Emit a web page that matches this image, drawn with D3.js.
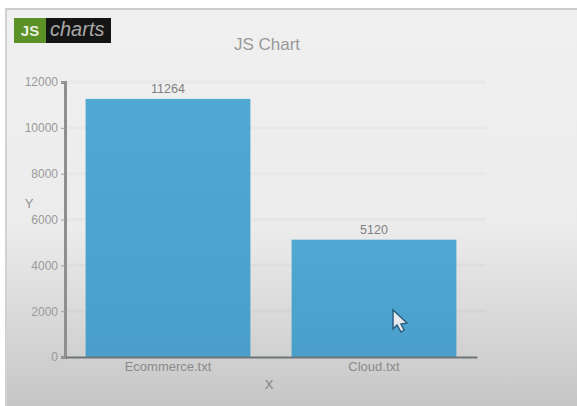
<!DOCTYPE html>
<html>
<head>
<meta charset="utf-8">
<title>JS Chart</title>
<script src="https://cdn.jsdelivr.net/npm/d3@7"></script>
<style>
  html, body { margin: 0; padding: 0; background: #fff; }
  svg { display: block; font-family: "Liberation Sans", Arial, sans-serif; }
</style>
</head>
<body>
<div id="chart"></div>
<script>
const categories = ['Ecommerce.txt', 'Cloud.txt'];
const values = [11264, 5120];
const yTicks = [0, 2000, 4000, 6000, 8000, 10000, 12000];

const width = 577;
const height = 406;
const margin = { top: 82, right: 100, bottom: 49, left: 65 };

const svg = d3.select('#chart')
    .append('svg')
    .attr('width', width)
    .attr('height', height);

// Panel background fades from light to mid grey
const defs = svg.append('defs');
const bg = defs.append('linearGradient')
    .attr('id', 'panel-bg')
    .attr('x1', 0).attr('y1', 0).attr('x2', 0).attr('y2', 1);
bg.append('stop').attr('offset', '0%').attr('stop-color', '#f0f0f0');
bg.append('stop').attr('offset', '55%').attr('stop-color', '#ececec');
bg.append('stop').attr('offset', '100%').attr('stop-color', '#c6c6c6');

const barFill = defs.append('linearGradient')
    .attr('id', 'bar-fill')
    .attr('x1', 0).attr('y1', 0).attr('x2', 0).attr('y2', 1);
barFill.append('stop').attr('offset', '0%').attr('stop-color', '#50a9d3');
barFill.append('stop').attr('offset', '100%').attr('stop-color', '#499fc9');

svg.append('rect')
    .attr('x', 5).attr('y', 8)
    .attr('width', width - 5).attr('height', height - 8)
    .attr('fill', 'url(#panel-bg)');
svg.append('rect')
    .attr('x', 5).attr('y', 8)
    .attr('width', width - 5).attr('height', 2)
    .attr('fill', '#cccccc');
svg.append('rect')
    .attr('x', 5).attr('y', 8)
    .attr('width', 2).attr('height', height - 8)
    .attr('fill', '#d2d2d2');

// Scales
const x = d3.scaleBand()
    .domain(categories)
    .range([margin.left, width - margin.right])
    .paddingInner(0.2)
    .paddingOuter(0.1);

const y = d3.scaleLinear()
    .domain([0, 12000])
    .range([height - margin.bottom, margin.top]);

// Gridlines
svg.append('g')
    .selectAll('line')
    .data(yTicks.filter(d => d > 0))
    .enter()
    .append('line')
    .attr('x1', margin.left)
    .attr('x2', 486)
    .attr('y1', d => y(d))
    .attr('y2', d => y(d))
    .attr('stroke', '#000')
    .attr('stroke-opacity', 0.025)
    .attr('stroke-width', 3);

// Bars
svg.append('g')
    .selectAll('rect')
    .data(values)
    .enter()
    .append('rect')
    .attr('x', (d, i) => x(categories[i]))
    .attr('y', d => y(d))
    .attr('width', x.bandwidth())
    .attr('height', d => y(0) - y(d))
    .attr('fill', 'url(#bar-fill)');

// Value labels
svg.append('g')
    .selectAll('text')
    .data(values)
    .enter()
    .append('text')
    .attr('x', (d, i) => x(categories[i]) + x.bandwidth() / 2)
    .attr('y', d => y(d) - 6)
    .attr('text-anchor', 'middle')
    .attr('font-size', 12.5)
    .attr('fill', '#808080')
    .text(d => d);

// Axes
const yAxis = svg.append('g')
    .attr('transform', `translate(${margin.left},0)`)
    .call(d3.axisLeft(y).tickValues(yTicks).tickFormat(d => d).tickSize(4).tickPadding(3));
yAxis.selectAll('.domain').attr('stroke', '#8f8f8f').attr('stroke-width', 3);
yAxis.selectAll('.tick line').attr('stroke', '#a0a0a0');
yAxis.selectAll('text').attr('font-size', 12).attr('fill', '#9a9a9a').attr('font-family', 'inherit');

const xAxis = svg.append('g')
    .attr('transform', `translate(0,${height - margin.bottom})`)
    .call(d3.axisBottom(x).tickSize(0).tickPadding(5));
xAxis.selectAll('.domain').attr('stroke', '#6f7476').attr('stroke-width', 2);
xAxis.selectAll('text').attr('font-size', 13).attr('fill', '#8a8a8a').attr('font-family', 'inherit');

// Title and axis names
svg.append('text')
    .attr('x', 267).attr('y', 50)
    .attr('text-anchor', 'middle')
    .attr('font-size', 17)
    .attr('fill', '#999')
    .text('JS Chart');
svg.append('text')
    .attr('x', 269).attr('y', 389)
    .attr('text-anchor', 'middle')
    .attr('font-size', 13)
    .attr('fill', '#808080')
    .text('X');
svg.append('text')
    .attr('x', 29).attr('y', 208)
    .attr('text-anchor', 'middle')
    .attr('font-size', 13)
    .attr('fill', '#939393')
    .text('Y');

// Logo badge
const logo = svg.append('g').attr('transform', 'translate(14,18)');
logo.append('rect').attr('width', 97).attr('height', 25).attr('fill', '#141414');
logo.append('rect').attr('width', 32).attr('height', 25).attr('fill', '#5c9127');
logo.append('text')
    .attr('x', 16).attr('y', 18)
    .attr('text-anchor', 'middle')
    .attr('font-size', 15).attr('font-weight', 'bold')
    .attr('fill', '#e8efe0')
    .text('JS');
logo.append('text')
    .attr('x', 36).attr('y', 18)
    .attr('font-size', 20).attr('font-style', 'italic')
    .attr('fill', '#a8a8a8')
    .text('charts');

// Mouse pointer over the second bar
svg.append('path')
    .attr('transform', 'translate(393,310)')
    .attr('d', 'M0,0 L0,19 L4,15 L8,22 L11,20 L8,14 L14,13 Z')
    .attr('fill', '#e6eaee')
    .attr('stroke', '#2d5f80')
    .attr('stroke-width', 1.5);
</script>
</body>
</html>
